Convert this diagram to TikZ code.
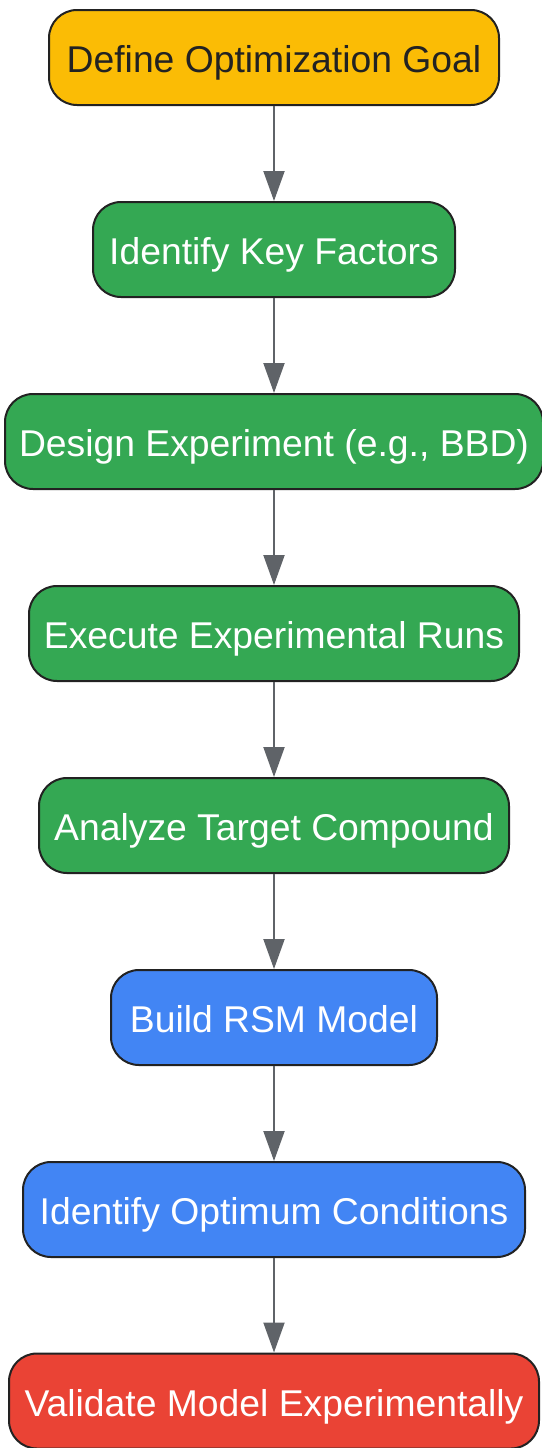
\documentclass[tikz,border=0pt]{standalone}
\usepackage{fontspec}
\setmainfont{Liberation Sans}
\usetikzlibrary{arrows.meta}
\definecolor{cyellow}{HTML}{FBBC05}
\definecolor{cgreen}{HTML}{34A853}
\definecolor{cblue}{HTML}{4285F4}
\definecolor{cred}{HTML}{EA4335}
\definecolor{cborder}{HTML}{222222}
\definecolor{carrow}{HTML}{5F6368}
\tikzset{
  stepbox/.style={draw=cborder, line width=2pt, rounded corners=28pt,
    minimum height=95pt, inner sep=0pt, anchor=center,
    text height=30pt, text depth=0pt,
    font=\fontsize{37.3}{42}\selectfont, text=white},
  flow/.style={draw=carrow, line width=2pt,
    -{Triangle[length=30pt,width=21pt]}}
}
\begin{document}
\begin{tikzpicture}[x=1pt,y=1pt]
\useasboundingbox (0,0) rectangle (541,-1448);
\node[stepbox, fill=cyellow, text=cborder, minimum width=450pt] (n1) at (274,-57.5) {Define Optimization Goal};
\node[stepbox, fill=cgreen, minimum width=362pt] (n2) at (274,-249.5) {Identify Key Factors};
\node[stepbox, fill=cgreen, minimum width=538pt] (n3) at (274,-441.5) {Design Experiment (e.g., BBD)};
\node[stepbox, fill=cgreen, minimum width=490pt] (n4) at (274,-633.5) {Execute Experimental Runs};
\node[stepbox, fill=cgreen, minimum width=470pt] (n5) at (274,-825.5) {Analyze Target Compound};
\node[stepbox, fill=cblue, minimum width=326pt] (n6) at (274,-1017.5) {Build RSM Model};
\node[stepbox, fill=cblue, minimum width=502pt] (n7) at (274,-1209.5) {Identify Optimum Conditions};
\node[stepbox, fill=cred, minimum width=530pt] (n8) at (274,-1401) {Validate Model Experimentally};
\foreach \a/\b in {n1/n2,n2/n3,n3/n4,n4/n5,n5/n6,n6/n7,n7/n8}
  \draw[flow] (\a.south) -- (\b.north);
\end{tikzpicture}
\end{document}
